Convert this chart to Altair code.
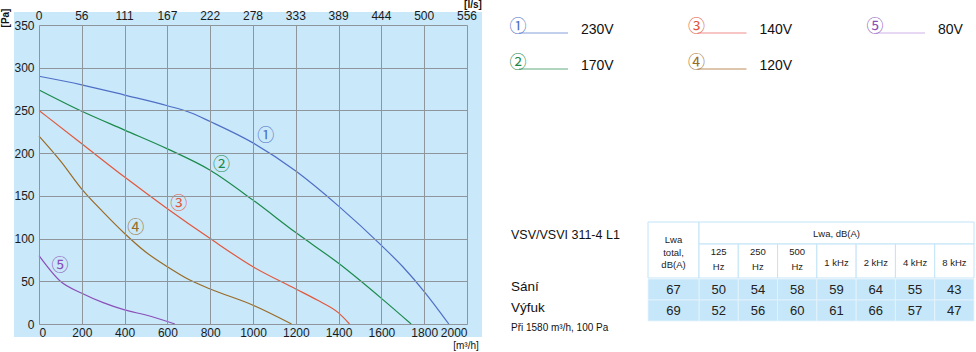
import altair as alt
import pandas as pd

# ---------------- data ----------------
series_names = ["1", "2", "3", "4", "5"]
circled = ["①", "②", "③", "④", "⑤"]
voltages = ["230V", "170V", "140V", "120V", "80V"]
line_colors = ["#4f6fc6", "#1b8a4a", "#e2573c", "#9a6b26", "#8a4fb8"]
legend_colors = ["#86a0da", "#62ab80", "#ef8c88", "#bb8d58", "#cfb0e6"]

c1_q = [0, 200, 400, 600, 712, 800, 1000, 1200, 1400, 1600, 1700, 1800, 1915]
c1_p = [290, 280, 268, 255.5, 247, 237, 212, 179, 138, 92, 67, 38, 0]
c2_q = [0, 200, 400, 600, 800, 1000, 1200, 1400, 1600, 1739]
c2_p = [274, 249, 227, 205, 180, 145, 107, 71, 30, 0]
c3_q = [0, 200, 400, 600, 800, 1000, 1200, 1300, 1400, 1451]
c3_p = [250, 211, 172, 135, 100, 67, 41, 28, 13, 0]
c4_q = [0, 100, 200, 300, 400, 500, 600, 700, 800, 1000, 1180]
c4_p = [220, 191, 158, 131, 106, 84, 67, 52, 41, 22, 0]
c5_q = [0, 100, 200, 300, 400, 500, 635]
c5_p = [80, 50, 36, 25, 16.5, 10.5, 0]

label_q = [1060, 853, 653, 452, 98]
label_p = [220, 186, 140, 112, 68]

x_ticks = [0, 200, 400, 600, 800, 1000, 1200, 1400, 1600, 1800, 2000]
ls_ticks = ["0", "56", "111", "167", "222", "278", "333", "389", "444", "500", "556"]
y_ticks = [0, 50, 100, 150, 200, 250, 300, 350]

freq_cols = ["125 Hz", "250 Hz", "500 Hz", "1 kHz", "2 kHz", "4 kHz", "8 kHz"]
freq_heads = ["125\nHz", "250\nHz", "500\nHz", "1 kHz", "2 kHz", "4 kHz", "8 kHz"]
rows = ["Sání", "Výfuk"]
total = [67, 69]
sani = [50, 54, 58, 59, 64, 55, 43]
vyfuk = [52, 56, 60, 61, 66, 57, 47]

FONT = "Liberation Sans"
BG = "#c9e8fa"

# ---------------- frames ----------------
curves = []
for s, qs, ps in zip(series_names, [c1_q, c2_q, c3_q, c4_q, c5_q],
                     [c1_p, c2_p, c3_p, c4_p, c5_p]):
    for q, p in zip(qs, ps):
        curves.append({"series": s, "q": q, "p": p})
curves = pd.DataFrame(curves)
labels_df = pd.DataFrame({"series": series_names, "q": label_q, "p": label_p, "t": circled})
top_df = pd.DataFrame({"q": x_ticks, "t": ls_ticks})

X = alt.X("q:Q", scale=alt.Scale(domain=[0, 2000], nice=False, zero=False),
          axis=alt.Axis(values=x_ticks, format="d", title=None, orient="bottom",
                        tickSize=0, domain=False, grid=True, gridColor="#8e959b",
                        gridWidth=1, gridOpacity=1, labelFont=FONT, labelFontSize=12,
                        labelColor="#1a1a1a", labelPadding=3, zindex=1))
Y = alt.Y("p:Q", scale=alt.Scale(domain=[0, 350], nice=False, zero=False),
          axis=alt.Axis(values=y_ticks, format="d", title=None, orient="left",
                        tickSize=0, domain=False, grid=True, gridColor="#8e959b",
                        gridWidth=1, gridOpacity=1, labelFont=FONT, labelFontSize=12,
                        labelColor="#1a1a1a", labelPadding=5, zindex=1))
COLOR = alt.Color("series:N", scale=alt.Scale(domain=series_names, range=line_colors), legend=None)

bg = alt.Chart(pd.DataFrame({"a": [1]})).mark_rect(fill=BG).encode(
    x=alt.value(-25), x2=alt.value(443), y=alt.value(-13), y2=alt.value(312))

lines = alt.Chart(curves).mark_line(interpolate="monotone", strokeWidth=1.2).encode(
    x=X, y=Y, color=COLOR, detail="series:N")

clabels = alt.Chart(labels_df).mark_text(font="Noto Sans CJK JP", fontSize=17).encode(
    x="q:Q", y="p:Q", text="t:N", color=COLOR)

toplabels = alt.Chart(top_df).mark_text(font=FONT, fontSize=12, color="#1a1a1a",
                                        baseline="middle").encode(
    x="q:Q", y=alt.value(-9), text="t:N")

pa = alt.Chart(pd.DataFrame({"t": ["[Pa]"]})).mark_text(
    font=FONT, fontSize=10, angle=270, color="#111", fontWeight="bold").encode(
    x=alt.value(-33), y=alt.value(-7), text="t:N")
lps = alt.Chart(pd.DataFrame({"t": ["[l/s]"]})).mark_text(
    font=FONT, fontSize=10, color="#111", fontWeight="bold").encode(
    x=alt.value(434), y=alt.value(-20), text="t:N")
m3h = alt.Chart(pd.DataFrame({"t": ["[m³/h]"]})).mark_text(
    font=FONT, fontSize=10, color="#111").encode(
    x=alt.value(427), y=alt.value(321), text="t:N")

main = alt.layer(bg, lines, clabels, toplabels, pa, lps, m3h)

# ---------------- legend ----------------
leg_df = pd.DataFrame({"idx": [1, 2, 3, 4, 5], "c": circled, "v": voltages,
                       "lc": legend_colors, "tc": line_colors})
LX = alt.X("lcol:Q", scale=alt.Scale(domain=[0, 2], range=[479, 836], nice=False, zero=False), axis=None)
LY = alt.Y("lrow:Q", scale=alt.Scale(domain=[0, 1], range=[2, 38], nice=False, zero=False), axis=None)
leg_base = alt.Chart(leg_df).transform_calculate(
    lcol="floor((datum.idx - 1) / 2)", lrow="(datum.idx - 1) % 2")
leg_rule = leg_base.mark_rule(strokeWidth=1, xOffset=1, x2Offset=50, yOffset=6, y2Offset=6).encode(
    x=LX, x2="lcol:Q", y=LY, y2="lrow:Q", color=alt.Color("lc:N", scale=None))
leg_circ = leg_base.mark_text(font="Noto Sans CJK JP", fontSize=17).encode(
    x=LX, y=LY, text="c:N", color=alt.Color("tc:N", scale=None))
leg_text = leg_base.mark_text(font=FONT, fontSize=14, align="left", dx=63, dy=3,
                              color="#111").encode(x=LX, y=LY, text="v:N")
legend = alt.layer(leg_rule, leg_circ, leg_text)

# ---------------- table ----------------
cells = []
for r, vals in zip(rows, [sani, vyfuk]):
    for c, v in zip(freq_cols, vals):
        cells.append({"row": r, "col": c, "v": v})
cells = pd.DataFrame(cells)
tot_df = pd.DataFrame({"row": rows, "v": total})
head_df = pd.DataFrame({"col": freq_cols, "h": freq_heads})
head2_df = head_df[head_df["h"].str.contains("\n")]
head1_df = head_df[~head_df["h"].str.contains("\n")]

TX = alt.X("col:N", sort=freq_cols,
           scale=alt.Scale(domain=freq_cols, range=[660, 935], paddingInner=0, paddingOuter=0),
           axis=None)
TY = alt.Y("row:N", sort=rows,
           scale=alt.Scale(domain=rows, range=[254, 296], paddingInner=0, paddingOuter=0),
           axis=None)
HEAD_STROKE = "#c3e4f7"
TBL = "#c6e7f9"

data_rect = alt.Chart(cells).mark_rect(fill=TBL, stroke="#e6f4fc", strokeWidth=0.8).encode(x=TX, y=TY)
tot_rect = alt.Chart(tot_df).mark_rect(fill=TBL, stroke="#e6f4fc", strokeWidth=0.8).encode(
    x=alt.value(609), x2=alt.value(660), y=TY)
data_text = alt.Chart(cells).mark_text(font=FONT, fontSize=13, color="#222").encode(
    x=TX, y=TY, text="v:Q")
tot_text = alt.Chart(tot_df).mark_text(font=FONT, fontSize=13, color="#222").encode(
    x=alt.value(634.5), y=TY, text="v:Q")

head_rect = alt.Chart(head_df).mark_rect(fill="white", stroke=HEAD_STROKE, strokeWidth=1).encode(
    x=TX, y=alt.value(219), y2=alt.value(253))
head_text2 = alt.Chart(head2_df).mark_text(font=FONT, fontSize=9.5, color="#222",
                                           lineBreak="\n", lineHeight=15).encode(
    x=TX, y=alt.value(227), text="h:N")
head_text1 = alt.Chart(head1_df).mark_text(font=FONT, fontSize=9.5, color="#222").encode(
    x=TX, y=alt.value(238), text="h:N")
span_rect = alt.Chart(pd.DataFrame({"t": ["Lwa, dB(A)"]})).mark_rect(
    fill="white", stroke=HEAD_STROKE, strokeWidth=1).encode(
    x=alt.value(660), x2=alt.value(935), y=alt.value(197), y2=alt.value(219))
span_text = alt.Chart(pd.DataFrame({"t": ["Lwa, dB(A)"]})).mark_text(
    font=FONT, fontSize=9.5, color="#222").encode(
    x=alt.value(797.5), y=alt.value(209), text="t:N")
tot_head_rect = alt.Chart(pd.DataFrame({"t": ["Lwa\ntotal,\ndB(A)"]})).mark_rect(
    fill="white", stroke=HEAD_STROKE, strokeWidth=1).encode(
    x=alt.value(609), x2=alt.value(660), y=alt.value(197), y2=alt.value(253))
tot_head_text = alt.Chart(pd.DataFrame({"t": ["Lwa\ntotal,\ndB(A)"]})).mark_text(
    font=FONT, fontSize=9.5, color="#222", lineBreak="\n", lineHeight=12.5).encode(
    x=alt.value(634.5), y=alt.value(215), text="t:N")

row_text = alt.Chart(pd.DataFrame({"row": rows})).mark_text(
    font=FONT, fontSize=13.5, color="#111", align="left", dy=-3).encode(
    x=alt.value(472), y=TY, text="row:N")
title_text = alt.Chart(pd.DataFrame({"t": ["VSV/VSVI 311-4 L1"]})).mark_text(
    font=FONT, fontSize=12.5, color="#111", align="left").encode(
    x=alt.value(472), y=alt.value(210), text="t:N")
foot_text = alt.Chart(pd.DataFrame({"t": ["Při 1580 m³/h, 100 Pa"]})).mark_text(
    font=FONT, fontSize=10, color="#111", align="left").encode(
    x=alt.value(472), y=alt.value(303), text="t:N")

table = alt.layer(tot_head_rect, span_rect, head_rect, data_rect, tot_rect,
                  tot_head_text, span_text, head_text2, head_text1, data_text, tot_text,
                  row_text, title_text, foot_text)

chart = alt.layer(main, legend, table).resolve_scale(
    x="independent", y="independent", color="independent"
).properties(
    width=428, height=299,
    padding={"left": 39, "top": 25, "right": 509, "bottom": 28},
    autosize=alt.AutoSizeParams(type="none"),
).configure_view(stroke=None)

chart.save("out.html", embed_options={"renderer": "svg", "actions": False})
